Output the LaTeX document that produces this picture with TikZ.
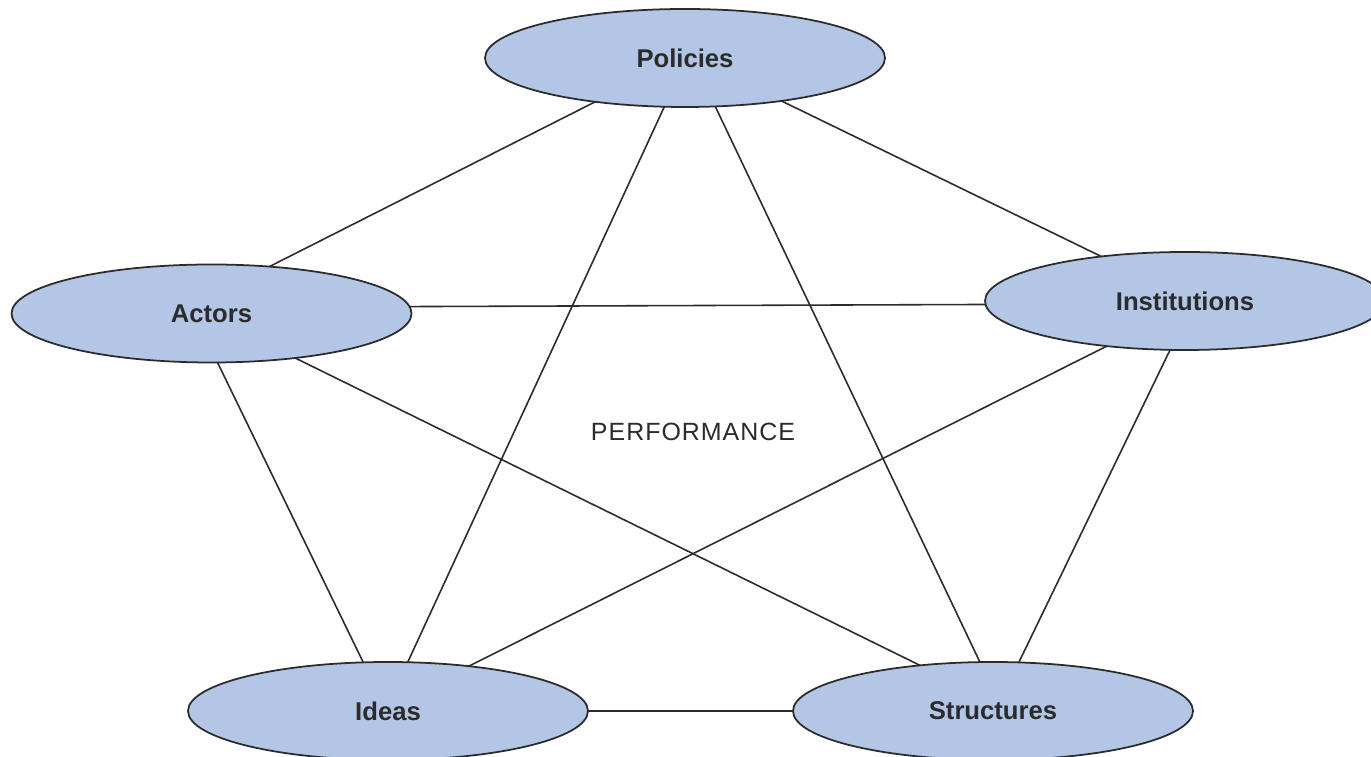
\documentclass[tikz,border=0pt]{standalone}
\usepackage{fontspec}
\setmainfont{Liberation Sans}
\usetikzlibrary{shapes.geometric}
\definecolor{bubblefill}{HTML}{B3C6E6}
\definecolor{inkgray}{HTML}{2B2B2B}
\begin{document}
\begin{tikzpicture}[bubble/.style = {ellipse, draw=inkgray, fill=bubblefill, line width=0.5pt, minimum width=4cm, minimum height=0.98cm, inner sep=0, outer sep=0, text=inkgray, font=\fontsize{7.3}{9}\selectfont\bfseries},
                    link/.style = {draw=inkgray, line width=0.45pt}]
    \useasboundingbox (0,0) rectangle (13.71,-7.57);

    \node[bubble] (P) at (6.85,-0.58)  {Policies};
    \node[bubble] (A) at (2.115,-3.135) {Actors};
    \node[bubble] (I) at (11.85,-3.01) {Institutions};
    \node[bubble] (D) at (3.88,-7.11)  {Ideas};
    \node[bubble] (S) at (9.93,-7.11)  {Structures};

    \node[text=inkgray, font=\fontsize{7.1}{9}\selectfont\addfontfeature{LetterSpace=4}] (perf) at (6.93,-4.32) {PERFORMANCE};

    \draw[link] (P.206.6) -- (A.39.7);
    \draw[link] (P.336.7) -- (I.152.9);
    \draw[link] (P.247.8) -- (D.68.8);
    \draw[link] (P.302.3) -- (S.105.4);
    \draw[link] (A.2.2)   -- (I.181.4);
    \draw[link] (A.277.5) -- (D.117.5);
    \draw[link] (A.332.5) -- (S.148.8);
    \draw[link] (I.210.5) -- (D.29.2);
    \draw[link] (I.253.3) -- (S.62.1);
    \draw[link] (D.0)     -- (S.180);
\end{tikzpicture}
\end{document}
